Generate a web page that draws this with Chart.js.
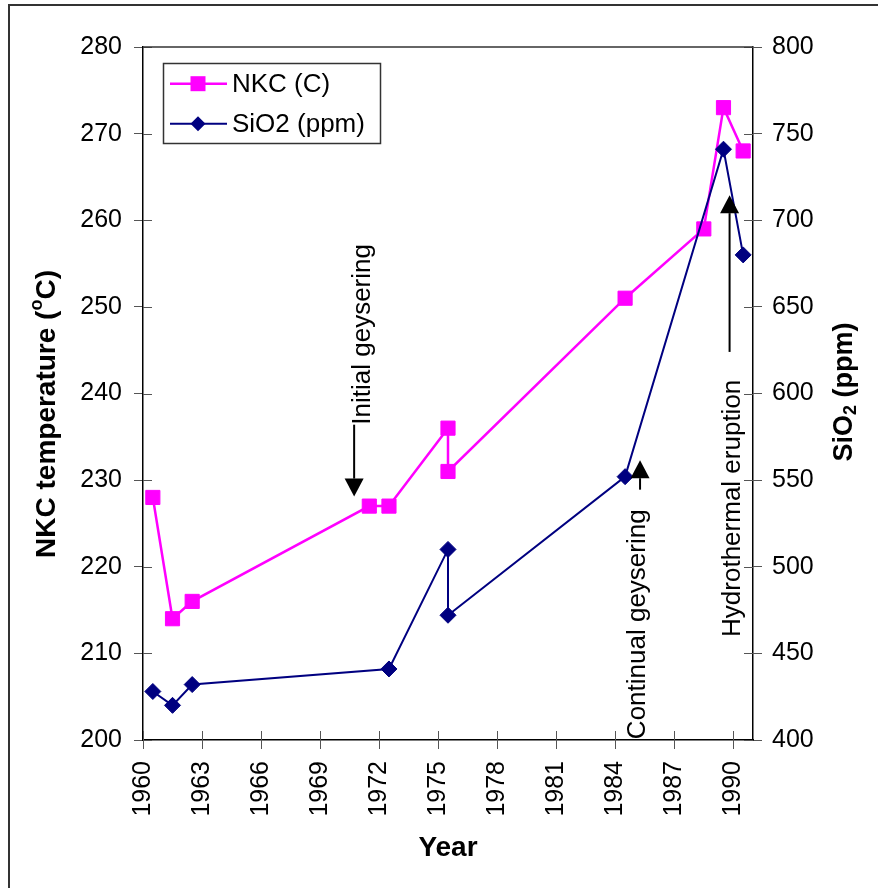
<!DOCTYPE html>
<html>
<head>
<meta charset="utf-8">
<title>NKC temperature and SiO2</title>
<script src="https://cdn.jsdelivr.net/npm/chart.js@4.4.1/dist/chart.umd.min.js"></script>
<style>
  html, body { margin: 0; padding: 0; background: #fff; overflow: hidden; }
  #wrap { position: relative; width: 878px; height: 888px; }
  #frame {
    position: absolute; left: 8px; top: 4px; width: 900px; height: 900px;
    border-left: 2px solid #333; border-top: 2px solid #333; pointer-events: none;
  }
</style>
</head>
<body>
<div id="wrap">
  <canvas id="chart" width="878" height="888"></canvas>
  <div id="frame"></div>
</div>
<script>
// NKC geothermometer temperatures and silica, by sampling year
const nkcYears = [1960.5, 1961.5, 1962.5, 1971.5, 1972.5, 1975.5, 1975.5, 1984.5, 1988.5, 1989.5, 1990.5];
const nkcTemps = [228, 214, 216, 227, 227, 236, 231, 251, 259, 273, 268];

const sio2Years = [1960.5, 1961.5, 1962.5, 1972.5, 1975.5, 1975.5, 1984.5, 1989.5, 1990.5];
const sio2Ppm = [428, 420, 432, 441, 510, 472, 552, 741, 680];

const xTicks = [1960, 1963, 1966, 1969, 1972, 1975, 1978, 1981, 1984, 1987, 1990];

// event notes: arrow x, tip and tail (left axis units), text baseline x and start y
const events = [
  { text: 'Initial geysering', x: 1970.73, tip: 228.1, tail: 236.4, textX: 1971.55, textY: 236.4 },
  { text: 'Continual geysering', x: 1985.26, tip: 232.3, tail: 228.9, textX: 1985.53, textY: 200.1 },
  { text: 'Hydrothermal eruption', x: 1989.81, tip: 262.9, tail: 244.8, textX: 1990.36, textY: 211.9 }
];

const FONT = "'Liberation Sans', Arial, sans-serif";
const MAGENTA = '#ff00ff';
const NAVY = '#000080';

Chart.defaults.font.family = FONT;
Chart.defaults.color = '#000';

function pairs(xs, ys) {
  return xs.map((x, i) => ({ x: x, y: ys[i] }));
}

// tick marks that cross the axis line: Chart.js draws the outer half
const innerTicks = {
  id: 'innerTicks',
  afterDraw(chart) {
    const ctx = chart.ctx;
    const { x, y, y2 } = chart.scales;
    const len = 9;
    ctx.save();
    ctx.strokeStyle = '#555';
    ctx.lineWidth = 1;
    ctx.beginPath();
    x.ticks.forEach((t, i) => {
      const px = Math.round(x.getPixelForTick(i)) + 0.5;
      ctx.moveTo(px, x.top);
      ctx.lineTo(px, x.top - len);
    });
    y.ticks.forEach((t, i) => {
      const py = Math.round(y.getPixelForTick(i)) + 0.5;
      ctx.moveTo(y.right, py);
      ctx.lineTo(y.right + len, py);
    });
    y2.ticks.forEach((t, i) => {
      const py = Math.round(y2.getPixelForTick(i)) + 0.5;
      ctx.moveTo(y2.left, py);
      ctx.lineTo(y2.left - len, py);
    });
    ctx.stroke();
    // top edge of the plot area
    const a = chart.chartArea;
    ctx.strokeStyle = '#333';
    ctx.lineWidth = 1.5;
    ctx.beginPath();
    ctx.moveTo(a.left, a.top);
    ctx.lineTo(a.right, a.top);
    ctx.stroke();
    ctx.restore();
  }
};

// rotated axis titles with super/subscripts
function drawRich(ctx, parts, cx, cy) {
  let total = 0;
  parts.forEach(p => {
    ctx.font = 'bold ' + p.size + 'px ' + FONT;
    p.w = ctx.measureText(p.t).width;
    total += p.w;
  });
  ctx.save();
  ctx.translate(cx, cy);
  ctx.rotate(-Math.PI / 2);
  ctx.textBaseline = 'middle';
  ctx.textAlign = 'left';
  let pos = -total / 2;
  parts.forEach(p => {
    ctx.font = 'bold ' + p.size + 'px ' + FONT;
    ctx.fillText(p.t, pos, p.dy || 0);
    pos += p.w;
  });
  ctx.restore();
}

const axisTitles = {
  id: 'axisTitles',
  afterDraw(chart) {
    const ctx = chart.ctx;
    ctx.save();
    ctx.fillStyle = '#000';
    drawRich(ctx, [
      { t: 'NKC temperature (', size: 28 },
      { t: 'o', size: 18, dy: -10 },
      { t: 'C)', size: 28 }
    ], 47, 414);
    drawRich(ctx, [
      { t: 'SiO', size: 27 },
      { t: '2', size: 18, dy: 6 },
      { t: ' (ppm)', size: 27 }
    ], 845, 392);
    ctx.restore();
  }
};

// boxed legend inside the plot area
const boxLegend = {
  id: 'boxLegend',
  afterDraw(chart) {
    const ctx = chart.ctx;
    const a = chart.chartArea;
    const bx = a.left + 20, by = a.top + 16, bw = 217, bh = 80;
    ctx.save();
    ctx.fillStyle = '#fff';
    ctx.fillRect(bx, by, bw, bh);
    ctx.strokeStyle = '#333';
    ctx.lineWidth = 1.5;
    ctx.strokeRect(bx + 0.5, by + 0.5, bw, bh);
    chart.data.datasets.forEach((ds, i) => {
      const ry = by + 20.7 + i * 40;
      const mx = bx + 35;
      ctx.strokeStyle = ds.borderColor;
      ctx.lineWidth = ds.borderWidth;
      ctx.beginPath();
      ctx.moveTo(bx + 7, ry);
      ctx.lineTo(bx + 64, ry);
      ctx.stroke();
      ctx.fillStyle = ds.pointBackgroundColor;
      ctx.beginPath();
      if (ds.pointStyle === 'rect') {
        ctx.rect(mx - 7.5, ry - 7.5, 15, 15);
      } else {
        const r = 7.5;
        ctx.moveTo(mx - r, ry);
        ctx.lineTo(mx, ry - r);
        ctx.lineTo(mx + r, ry);
        ctx.lineTo(mx, ry + r);
        ctx.closePath();
      }
      ctx.fill();
      ctx.fillStyle = '#000';
      ctx.font = '26px ' + FONT;
      ctx.textBaseline = 'middle';
      ctx.textAlign = 'left';
      ctx.fillText(ds.label, bx + 69, ry + 1);
    });
    ctx.restore();
  }
};

// event arrows and their vertical labels
const eventNotes = {
  id: 'eventNotes',
  afterDatasetsDraw(chart) {
    const ctx = chart.ctx;
    const { x, y } = chart.scales;
    ctx.save();
    ctx.strokeStyle = '#000';
    ctx.fillStyle = '#000';
    ctx.lineWidth = 2;
    events.forEach(ev => {
      const px = x.getPixelForValue(ev.x);
      const tip = y.getPixelForValue(ev.tip);
      const tail = y.getPixelForValue(ev.tail);
      const dir = tip > tail ? 1 : -1;
      const head = 18, half = 9.5;
      const base = tip - dir * head;
      ctx.beginPath();
      ctx.moveTo(px, tail);
      ctx.lineTo(px, base);
      ctx.stroke();
      ctx.beginPath();
      ctx.moveTo(px, tip);
      ctx.lineTo(px - half, base);
      ctx.lineTo(px + half, base);
      ctx.closePath();
      ctx.fill();

      ctx.save();
      ctx.translate(x.getPixelForValue(ev.textX), y.getPixelForValue(ev.textY));
      ctx.rotate(-Math.PI / 2);
      ctx.font = '26px ' + FONT;
      ctx.textAlign = 'left';
      ctx.textBaseline = 'alphabetic';
      ctx.fillText(ev.text, 0, 0);
      ctx.restore();
    });
    ctx.restore();
  }
};

new Chart(document.getElementById('chart'), {
  type: 'line',
  data: {
    datasets: [
      {
        label: 'NKC (C)',
        data: pairs(nkcYears, nkcTemps),
        yAxisID: 'y',
        borderColor: MAGENTA,
        borderWidth: 2.5,
        pointStyle: 'rect',
        pointRadius: 10,
        pointBackgroundColor: MAGENTA,
        pointBorderColor: MAGENTA,
        pointBorderWidth: 1,
        tension: 0,
        order: 2
      },
      {
        label: 'SiO2 (ppm)',
        data: pairs(sio2Years, sio2Ppm),
        yAxisID: 'y2',
        borderColor: NAVY,
        borderWidth: 2,
        pointStyle: 'rectRot',
        pointRadius: 8,
        pointBackgroundColor: NAVY,
        pointBorderColor: NAVY,
        pointBorderWidth: 1,
        tension: 0,
        order: 1
      }
    ]
  },
  options: {
    responsive: false,
    animation: false,
    devicePixelRatio: 1,
    layout: { padding: { top: 47, left: 0, right: 0, bottom: 0 } },
    plugins: {
      legend: { display: false },
      tooltip: { enabled: false }
    },
    scales: {
      x: {
        type: 'linear',
        min: 1960,
        max: 1991,
        afterBuildTicks(scale) {
          scale.ticks = xTicks.map(v => ({ value: v }));
        },
        afterFit(scale) { scale.height = 148; },
        ticks: {
          autoSkip: false,
          maxRotation: 90,
          minRotation: 90,
          padding: 12,
          font: { size: 25 },
          color: '#000',
          callback: v => String(v)
        },
        grid: { drawOnChartArea: false, tickLength: 9, color: '#555' },
        border: { color: '#000', width: 1.5 },
        title: {
          display: true,
          text: 'Year',
          font: { size: 28, weight: 'bold' },
          padding: { top: 0, bottom: 23 }
        }
      },
      y: {
        position: 'left',
        min: 200,
        max: 280,
        afterFit(scale) { scale.width = 143; },
        ticks: { stepSize: 10, padding: 12, font: { size: 25 }, color: '#000' },
        grid: { drawOnChartArea: false, tickLength: 9, color: '#555' },
        border: { color: '#000', width: 1.5 }
      },
      y2: {
        position: 'right',
        min: 400,
        max: 800,
        afterFit(scale) { scale.width = 125; },
        ticks: { stepSize: 50, padding: 10, font: { size: 25 }, color: '#000' },
        grid: { drawOnChartArea: false, tickLength: 9, color: '#555' },
        border: { color: '#000', width: 1.5 }
      }
    }
  },
  plugins: [innerTicks, eventNotes, boxLegend, axisTitles]
});
</script>
</body>
</html>
